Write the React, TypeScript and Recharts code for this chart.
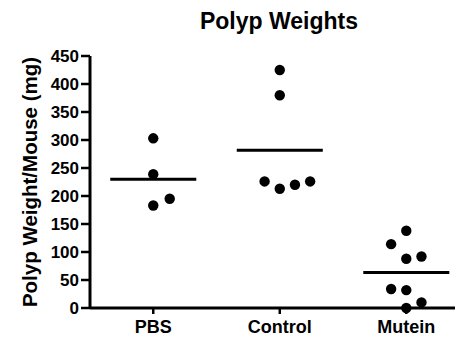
import React from 'react';
import { ScatterChart, Scatter, XAxis, YAxis, ReferenceLine } from 'recharts';

const categories = ['PBS', 'Control', 'Mutein'];
const pbsValues = [303, 239, 183, 195];
const pbsJitter = [0, 0, 0, 0.13];
const controlValues = [425, 380, 226, 213, 220, 226];
const controlJitter = [0, 0, -0.12, 0, 0.12, 0.24];
const muteinValues = [138, 114, 88, 92, 34, 32, 10, 0];
const muteinJitter = [0, -0.12, 0, 0.12, -0.12, 0, 0.12, 0];
const yTicks = [0, 50, 100, 150, 200, 250, 300, 350, 400, 450];
const title = 'Polyp Weights';
const yLabel = 'Polyp Weight/Mouse (mg)';

const groups = [
  { values: pbsValues, jitter: pbsJitter },
  { values: controlValues, jitter: controlJitter },
  { values: muteinValues, jitter: muteinJitter },
];

const FONT = '"Liberation Sans", Arial, Helvetica, sans-serif';

const points = groups.flatMap((g, gi) =>
  g.values.map((v, i) => ({ x: gi + 1 + g.jitter[i], y: v }))
);
const means = groups.map((g) => g.values.reduce((a, b) => a + b, 0) / g.values.length);

const Dot = (props: any) => {
  const { cx, cy } = props;
  return <circle cx={cx} cy={cy} r={5.2} fill="#000" />;
};

export default function App() {
  return (
    <div style={{ position: 'absolute', left: 0, top: 0, width: 455, height: 338, background: '#fff' }}>
      <ScatterChart width={455} height={338} margin={{ top: 56, right: 0, bottom: 0, left: 0 }}>
        <XAxis
          type="number"
          dataKey="x"
          domain={[0.5, 3.385]}
          ticks={[1, 2, 3]}
          tickFormatter={(v: number) => categories[Math.round(v) - 1] ?? ''}
          height={30}
          axisLine={{ stroke: '#000', strokeWidth: 3 }}
          tickLine={{ stroke: '#000', strokeWidth: 2.5 }}
          tickSize={6}
          tickMargin={6}
          tick={{ fill: '#000', fontSize: 18, fontWeight: 'bold', fontFamily: FONT }}
          allowDataOverflow
        />
        <YAxis
          type="number"
          dataKey="y"
          domain={[0, 450]}
          ticks={yTicks}
          width={90}
          axisLine={{ stroke: '#000', strokeWidth: 3 }}
          tickLine={{ stroke: '#000', strokeWidth: 2.5 }}
          tickSize={9}
          tickMargin={2}
          tick={{ fill: '#000', fontSize: 17, fontWeight: 'bold', fontFamily: FONT }}
          interval={0}
        />
        {means.map((m, i) => (
          <ReferenceLine
            key={i}
            segment={[{ x: i + 1 - 0.34, y: m }, { x: i + 1 + 0.34, y: m }]}
            stroke="#000"
            strokeWidth={3}
            ifOverflow="visible"
          />
        ))}
        <Scatter data={points} shape={<Dot />} isAnimationActive={false} />
        <text x={279} y={29} textAnchor="middle" fontFamily={FONT} fontWeight="bold" fontSize={23} fill="#000">
          {title}
        </text>
        <text
          x={37}
          y={182}
          transform="rotate(-90 37 182)"
          textAnchor="middle"
          fontFamily={FONT}
          fontWeight="bold"
          fontSize={20.5}
          fill="#000"
        >
          {yLabel}
        </text>
      </ScatterChart>
    </div>
  );
}
